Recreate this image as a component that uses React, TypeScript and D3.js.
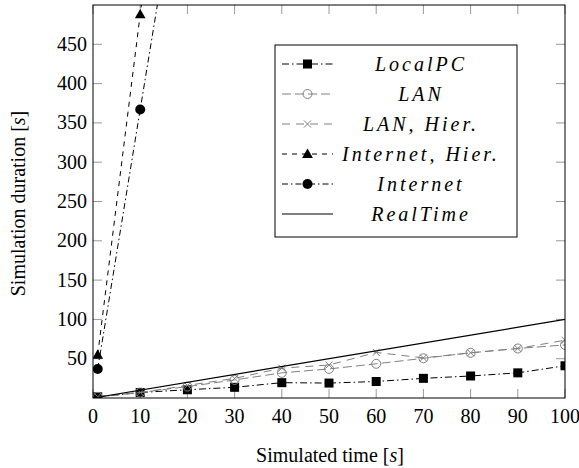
import React from 'react';
import * as d3 from 'd3';

// data
const simTime = [1, 10, 20, 30, 40, 50, 60, 70, 80, 90, 100];
const localPC = [1.5, 7, 10.5, 13.6, 19.5, 19, 21, 25, 28, 32, 41];
const lan = [1.5, 7, 14.5, 23, 32, 37, 43.5, 50.5, 57.5, 63, 67.5];
const lanHier = [1.5, 7, 16, 25, 38, 42, 58, 51, 57.5, 63, 73.5];
const internetTime = [1, 10, 20];
const internet = [37, 367, 733];
const internetHier = [55, 488, 970];
const realTimeX = [0, 100];
const realTimeY = [0, 100];

const xTicks = [0, 10, 20, 30, 40, 50, 60, 70, 80, 90, 100];
const yTicks = [50, 100, 150, 200, 250, 300, 350, 400, 450];

const legendLabels = ['LocalPC', 'LAN', 'LAN, Hier.', 'Internet, Hier.', 'Internet', 'RealTime'];

type Series = {
  xs: number[];
  ys: number[];
  color: string;
  dash: string;
  marker: string;
};

const GREY = '#808080';

const series: Series[] = [
  { xs: simTime, ys: localPC, color: '#000', dash: '7,3,1.5,3', marker: 'square' },
  { xs: simTime, ys: lan, color: GREY, dash: '9,4', marker: 'circleOpen' },
  { xs: simTime, ys: lanHier, color: GREY, dash: '8,6', marker: 'cross' },
  { xs: internetTime, ys: internetHier, color: '#000', dash: '5,5', marker: 'triangle' },
  { xs: internetTime, ys: internet, color: '#000', dash: '6,3,1.5,3', marker: 'circle' },
  { xs: realTimeX, ys: realTimeY, color: '#000', dash: '', marker: 'none' },
];

const SERIF = 'Liberation Serif';

const left = 93, right = 565, top = 5, bottom = 398;
const x = d3.scaleLinear().domain([0, 100]).range([left, right]);
const y = d3.scaleLinear().domain([0, 500]).range([bottom, top]);
const line = d3.line<[number, number]>().x(d => x(d[0])).y(d => y(d[1]));
const triangle = d3.symbol(d3.symbolTriangle, 50)() as string;

const Marker = ({ kind, cx, cy, color }: { kind: string; cx: number; cy: number; color: string }) => {
  if (kind === 'square') return <rect x={cx - 4.5} y={cy - 4.5} width={9} height={9} fill={color} />;
  if (kind === 'circle') return <circle cx={cx} cy={cy} r={5} fill={color} />;
  if (kind === 'circleOpen') return <circle cx={cx} cy={cy} r={4.5} fill="none" stroke={color} strokeWidth={1} />;
  if (kind === 'cross') {
    const s = 3.5;
    return (
      <path
        d={`M${cx - s},${cy - s}L${cx + s},${cy + s}M${cx - s},${cy + s}L${cx + s},${cy - s}`}
        stroke={color}
        strokeWidth={1}
      />
    );
  }
  if (kind === 'triangle') return <path d={triangle} transform={`translate(${cx},${cy + 0.8})`} fill={color} />;
  return null;
};

const App = () => {
  const tl = 9;
  return (
    <svg width={579} height={468} style={{ position: 'absolute', top: 0, left: 0, background: '#fff' }}>
      <defs>
        <clipPath id="plotclip">
          <rect x={left} y={top} width={right - left} height={bottom - top} />
        </clipPath>
      </defs>

      {/* grey inside ticks */}
      <g stroke="#999" strokeWidth={1}>
        {xTicks.map(t => (
          <g key={'xt' + t}>
            <line x1={x(t)} x2={x(t)} y1={bottom} y2={bottom - tl} />
            <line x1={x(t)} x2={x(t)} y1={top} y2={top + tl} />
          </g>
        ))}
        {yTicks.map(t => (
          <g key={'yt' + t}>
            <line x1={left} x2={left + tl} y1={y(t)} y2={y(t)} />
            <line x1={right} x2={right - tl} y1={y(t)} y2={y(t)} />
          </g>
        ))}
      </g>

      <g clipPath="url(#plotclip)">
        {series.map((s, si) => {
          const pts = s.xs.map((v, i) => [v, s.ys[i]] as [number, number]);
          return (
            <g key={'s' + si}>
              <path
                d={line(pts) || ''}
                fill="none"
                stroke={s.color}
                strokeWidth={s.marker === 'none' ? 1.2 : 1}
                strokeDasharray={s.dash || undefined}
              />
              {pts.map((p, i) => (
                <Marker key={i} kind={s.marker} cx={x(p[0])} cy={y(p[1])} color={s.color} />
              ))}
            </g>
          );
        })}
      </g>

      <rect x={left} y={top} width={right - left} height={bottom - top} fill="none" stroke="#000" strokeWidth={1} />

      <g fontFamily={SERIF} fontSize={20} fill="#000">
        {xTicks.map(t => (
          <text key={'xl' + t} x={x(t)} y={bottom + 25} textAnchor="middle">{t}</text>
        ))}
        {yTicks.map(t => (
          <text key={'yl' + t} x={left - 6} y={y(t) + 6.5} textAnchor="end">{t}</text>
        ))}
        <text x={(left + right) / 2 + 1} y={462} textAnchor="middle">
          Simulated time [<tspan fontStyle="italic">s</tspan>]
        </text>
        <text transform={`translate(25,${(top + bottom) / 2 + 2}) rotate(-90)`} textAnchor="middle">
          Simulation duration [<tspan fontStyle="italic">s</tspan>]
        </text>
      </g>

      {/* legend */}
      <g>
        <rect x={275} y={45} width={242} height={192} fill="#fff" stroke="#000" strokeWidth={1} />
        {legendLabels.map((name, i) => {
          const s = series[i];
          const cy = 64 + i * 30;
          return (
            <g key={name}>
              <line x1={282} x2={333} y1={cy} y2={cy} stroke={s.color} strokeWidth={1}
                strokeDasharray={s.dash || undefined} />
              <Marker kind={s.marker} cx={307.5} cy={cy} color={s.color} />
              <text x={421} y={cy + 6.5} textAnchor="middle" fontFamily={SERIF} fontStyle="italic"
                fontSize={20} letterSpacing={3}>{name}</text>
            </g>
          );
        })}
      </g>
    </svg>
  );
};

export default App;
